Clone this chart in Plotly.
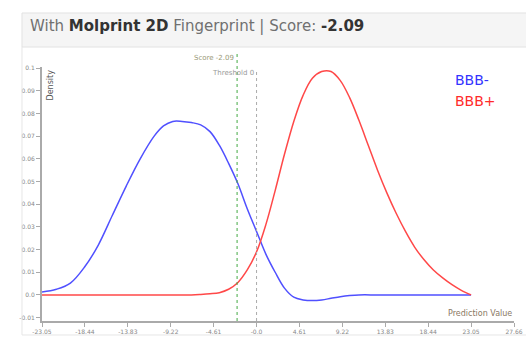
import plotly.graph_objects as go

# ---- data ----
x_ticks = [-23.05, -18.44, -13.83, -9.22, -4.61, 0.0, 4.61, 9.22, 13.83, 18.44, 23.05, 27.66]
x_tick_labels = ["-23.05", "-18.44", "-13.83", "-9.22", "-4.61", "-0.0", "4.61", "9.22", "13.83", "18.44", "23.05", "27.66"]
y_ticks = [-0.01, 0.0, 0.01, 0.02, 0.03, 0.04, 0.05, 0.06, 0.07, 0.08, 0.09, 0.1]
y_tick_labels = ["-0.01", "0.0", "0.01", "0.02", "0.03", "0.04", "0.05", "0.06", "0.07", "0.08", "0.09", "0.1"]

neg_x = [-23.05, -21.5, -20.0, -18.44, -17.0, -15.5, -14.0, -12.5, -11.0, -10.0, -9.0, -8.0, -7.0,
         -6.0, -5.0, -4.0, -3.0, -2.0, -1.0, 0.0, 1.0, 2.0, 3.0, 4.0, 5.0, 6.0, 7.0, 8.0, 9.0,
         10.0, 11.0, 13.0, 16.0, 19.0, 23.05]
neg_y = [0.0013, 0.0025, 0.0052, 0.0125, 0.022, 0.035, 0.048, 0.060, 0.070, 0.0745, 0.0765, 0.0765, 0.076,
         0.075, 0.072, 0.066, 0.058, 0.049, 0.038, 0.028, 0.018, 0.010, 0.003, -0.001, -0.0022, -0.0025,
         -0.0022, -0.0015, -0.0008, -0.0003, 0.0, 0.0, 0.0, 0.0, 0.0]

pos_x = [-23.05, -15.0, -10.0, -7.0, -6.0, -5.0, -4.0, -3.0, -2.0, -1.0, 0.0, 1.0, 2.0, 3.0, 4.0, 5.0,
         6.0, 7.0, 8.0, 9.0, 10.0, 11.0, 12.0, 13.0, 14.0, 15.0, 16.0, 17.0, 18.0, 19.0, 20.0, 21.0,
         22.0, 23.05]
pos_y = [0.0, 0.0, 0.0, 0.0, 0.0002, 0.0005, 0.001, 0.0025, 0.0055, 0.011, 0.019, 0.031, 0.046, 0.062,
         0.0765, 0.088, 0.0955, 0.0985, 0.0985, 0.0945, 0.087, 0.077, 0.066, 0.055, 0.045, 0.036, 0.028,
         0.021, 0.0155, 0.011, 0.0075, 0.0045, 0.002, 0.0]

score = -2.09
threshold = 0.0

fig = go.Figure()
fig.add_trace(go.Scatter(x=neg_x, y=neg_y, mode="lines", line=dict(color="#5050ff", width=1.5, shape="spline"),
                         name="BBB-", hoverinfo="skip"))
fig.add_trace(go.Scatter(x=pos_x, y=pos_y, mode="lines", line=dict(color="#ff4848", width=1.5, shape="spline"),
                         name="BBB+", hoverinfo="skip"))

shapes = [
    # header
    dict(type="rect", xref="paper", yref="paper", x0=-0.0424, x1=1.03, y0=1.0787, y1=1.2126,
         fillcolor="#f5f5f5", line=dict(color="#e2e2e2", width=1), layer="below"),
    # panel borders
    dict(type="line", xref="paper", yref="paper", x0=-0.0424, x1=-0.0424, y0=-0.055, y1=1.0787,
         line=dict(color="#e6e6e6", width=1)),
    dict(type="line", xref="paper", yref="paper", x0=-0.0424, x1=1.03, y0=-0.055, y1=-0.055,
         line=dict(color="#e6e6e6", width=1)),
    # score / threshold lines
    dict(type="line", xref="x", yref="paper", x0=score, x1=score, y0=0, y1=1.055,
         line=dict(color="#44aa44", width=1, dash="dot")),
    dict(type="line", xref="x", yref="paper", x0=threshold, x1=threshold, y0=0, y1=0.988,
         line=dict(color="#aaaaaa", width=1, dash="dot")),
]

annotations = [
    dict(text="With <b><span style='color:#333'>Molprint 2D</span></b> Fingerprint | Score: <b><span style='color:#333'>-2.09</span></b>",
         xref="paper", yref="paper", x=-0.0297, y=1.161, xanchor="left", yanchor="middle",
         showarrow=False, font=dict(family="DejaVu Sans", size=15, color="#707070")),
    dict(text="Score -2.09", xref="x", yref="paper", x=score, y=1.035, xanchor="right", yanchor="middle",
         showarrow=False, xshift=-1, font=dict(family="DejaVu Sans", size=7, color="#9a9a78")),
    dict(text="Threshold 0", xref="x", yref="paper", x=threshold, y=0.976, xanchor="right", yanchor="middle",
         showarrow=False, xshift=-1, font=dict(family="DejaVu Sans", size=7, color="#999999")),
    dict(text="Density", xref="paper", yref="paper", x=0.019, y=1.0, xanchor="center", yanchor="top",
         textangle=-90, showarrow=False, font=dict(family="DejaVu Sans", size=8, color="#555555")),
    dict(text="Prediction Value", xref="paper", yref="paper", x=1.0, y=0.028, xanchor="right", yanchor="middle",
         showarrow=False, font=dict(family="DejaVu Sans", size=8, color="#8a7864")),
    dict(text="BBB-", xref="paper", yref="paper", x=0.871, y=0.949, xanchor="left", yanchor="middle",
         showarrow=False, font=dict(family="DejaVu Sans", size=14, color="#3333ff")),
    dict(text="BBB+", xref="paper", yref="paper", x=0.871, y=0.866, xanchor="left", yanchor="middle",
         showarrow=False, font=dict(family="DejaVu Sans", size=14, color="#ff2a2a")),
]

fig.update_layout(
    width=526, height=339,
    margin=dict(l=42, r=12, t=67, b=18, autoexpand=False),
    paper_bgcolor="white", plot_bgcolor="white",
    showlegend=False,
    shapes=shapes, annotations=annotations,
    xaxis=dict(range=[-23.05, 27.66], tickvals=x_ticks, ticktext=x_tick_labels, showgrid=False,
               zeroline=False, showline=True, linecolor="#aaaaaa", linewidth=2, ticks="outside",
               ticklen=4, tickcolor="#aaaaaa", automargin=False,
               tickfont=dict(family="DejaVu Sans", size=6, color="#888888")),
    yaxis=dict(range=[-0.0115, 0.1005], tickvals=y_ticks, ticktext=y_tick_labels, showgrid=False,
               zeroline=False, showline=True, linecolor="#aaaaaa", linewidth=2, ticks="outside",
               ticklen=4, tickcolor="#aaaaaa", automargin=False,
               tickfont=dict(family="DejaVu Sans", size=6, color="#888888")),
)

fig.write_html("out.html", config={"displayModeBar": False},
               post_script="document.body.style.margin='0';document.body.style.padding='0';")
